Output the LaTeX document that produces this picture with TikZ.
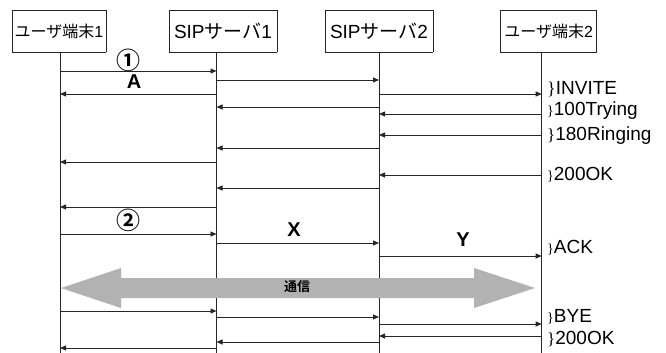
\documentclass[tikz,border=0pt]{standalone}
\usepackage{fontspec}
\setmainfont{Liberation Sans}
\newfontfamily\jp{Noto Sans CJK JP}
\newfontfamily\jpb{Noto Sans CJK JP Bold}
\newfontfamily\brf{Liberation Serif}
\usetikzlibrary{arrows.meta}
\tikzset{
  actorbox/.style={rectangle,inner sep=0pt,minimum height=42pt},
  life/.style={draw=black!85,line width=0.8pt},
  boxedge/.style={draw=black!85,line width=0.8pt,line cap=rect},
  msg/.style={draw=black!85,line width=0.8pt,-{Triangle[length=6pt,width=5pt]}},
  lbl/.style={anchor=west,inner sep=0pt,font=\fontsize{19}{20}\selectfont},
  big/.style={inner sep=0pt,font=\bfseries\fontsize{20}{22}\selectfont}
}
\begin{document}
\begin{tikzpicture}[x=1pt,y=-1pt]
\useasboundingbox (0,0) rectangle (666,353);
% lifeline coordinates
\foreach \n/\x in {1/60,2/216.5,3/379,4/541.7}{
  \coordinate (t\n) at (\x,52);
  \coordinate (b\n) at (\x,353);
}
\draw[life] (t1) -- (b1);
\draw[life] (t2) -- (b2);
\draw[life] (t3) -- (b3);
\draw[life] (t4) -- (b4);
% actor box corners
\foreach \n/\l/\r in {1/12/106,2/169/277,3/325/433,4/500.7/596.7}{
  \coordinate (nw\n) at (\l,10);
  \coordinate (ne\n) at (\r,10);
  \coordinate (sw\n) at (\l,52);
  \coordinate (se\n) at (\r,52);
}
\foreach \n in {1,2,3,4}{
  \draw[boxedge] (nw\n) -- (ne\n);
  \draw[boxedge] (ne\n) -- (se\n);
  \draw[boxedge] (se\n) -- (sw\n);
  \draw[boxedge] (sw\n) -- (nw\n);
}
\node[actorbox,minimum width=94pt,font=\fontsize{16}{18}\selectfont] (a1) at (59,31) {{\jp ユーザ端末}1};
\node[actorbox,minimum width=108pt,font=\fontsize{19}{20}\selectfont] (a2) at (223,31) {SIP{\jp サーバ}1};
\node[actorbox,minimum width=108pt,font=\fontsize{19}{20}\selectfont] (a3) at (379,31) {SIP{\jp サーバ}2};
\node[actorbox,minimum width=96pt,font=\fontsize{16}{18}\selectfont] (a4) at (548.7,31) {{\jp ユーザ端末}2};
% messages
\foreach \f/\t/\y in {
  1/2/71, 2/3/80, 2/1/94, 3/4/94, 3/2/107, 4/3/114,
  4/3/135, 3/2/148, 2/1/162, 4/3/175, 3/2/188, 2/1/207,
  1/2/234, 2/3/243, 3/4/256,
  1/2/311, 2/3/317, 3/4/324, 4/3/336, 3/2/342, 2/1/348}{
  \draw[msg] (t\f |- 0,\y) -- (t\t |- 0,\y);
}
% big arrow
\fill[black!30] (61,288) -- (121,268) -- (121,278) -- (474,278) -- (474,268) -- (535,288)
  -- (474,308) -- (474,298) -- (121,298) -- (121,308) -- cycle;
\node[inner sep=0pt,font=\jpb\fontsize{13}{13}\selectfont] (comm) at (297,287) {通信};
% labels
\node[inner sep=0pt,font=\jpb\fontsize{24}{24}\selectfont] (n1) at (128,60) {①};
\node[big] (la) at (134,82) {A};
\node[inner sep=0pt,font=\jpb\fontsize{24}{24}\selectfont] (n2) at (128,220) {②};
\node[big] (lx) at (294,230) {X};
\node[big] (ly) at (463,240) {Y};
\node[lbl] (invite) at (547,89) {{\brf\fontsize{18}{18}\selectfont\}}INVITE};
\node[lbl] (trying) at (547,111) {{\brf\fontsize{14}{14}\selectfont\}}100Trying};
\node[lbl] (ringing) at (547,136) {{\brf\fontsize{17}{17}\selectfont\}}180Ringing};
\node[lbl] (ok1) at (547,175) {{\brf\fontsize{14}{14}\selectfont\}}200OK};
\node[lbl] (ack) at (547,248) {{\brf\fontsize{14}{14}\selectfont\}}ACK};
\node[lbl] (bye) at (547,317) {{\brf\fontsize{14}{14}\selectfont\}}BYE};
\node[lbl] (ok2) at (547,339) {{\brf\fontsize{17}{17}\selectfont\}}200OK};
\end{tikzpicture}
\end{document}
